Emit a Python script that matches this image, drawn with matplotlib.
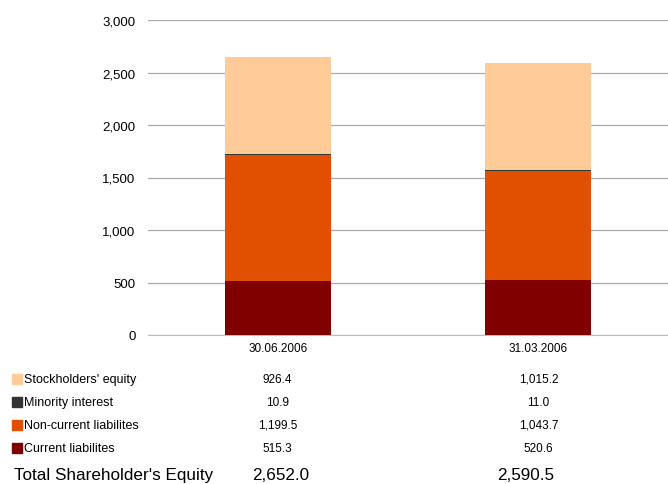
import matplotlib.pyplot as plt
import numpy as np

# Dane
dates = ["30.06.2006", "31.03.2006"]
labels = ["Current liabilites", "Non-current liabilites", "Minority interest", "Stockholders' equity"]
current = [515.3, 520.6]
non_current = [1199.5, 1043.7]
minority = [10.9, 11.0]
equity = [926.4, 1015.2]
totals = [2652.0, 2590.5]
colors = ["#800000", "#E05000", "#333333", "#FFCC99"]

plt.rcParams["font.family"] = ["Liberation Sans", "DejaVu Sans"]

fig = plt.figure(figsize=(6.68, 4.85), dpi=100)
ax = fig.add_axes([148 / 668, 1 - 336 / 485, 520 / 668, 315 / 485])

x = np.arange(len(dates))
series = [current, non_current, minority, equity]
bottom = np.zeros(len(dates))
for s, c in zip(series, colors):
    ax.bar(x, s, width=0.405, bottom=bottom, color=c, zorder=3)
    bottom += np.array(s)

ax.set_xlim(-0.5, 1.5)
ax.set_ylim(0, 3000)
ax.set_yticks(np.arange(0, 3001, 500))
ax.set_yticklabels([f"{v:,}" for v in range(0, 3001, 500)], fontsize=9.5)
ax.set_xticks(x)
ax.set_xticklabels(dates, fontsize=8.5)
ax.yaxis.grid(True, color="#aaaaaa", linewidth=0.9, zorder=0)
ax.tick_params(axis="y", length=0, pad=9)
ax.tick_params(axis="x", length=0, pad=5)
for side in ["top", "right", "left"]:
    ax.spines[side].set_visible(False)
ax.spines["bottom"].set_color("#bbbbbb")

# Tabela pod wykresem
rows_y = [380, 403, 426, 449]
order = [3, 2, 1, 0]
for yy, i in zip(rows_y, order):
    yf = 1 - yy / 485
    fig.patches.append(plt.Rectangle((12 / 668, yf - 5 / 485), 10 / 668, 10 / 485,
                                     transform=fig.transFigure, color=colors[i]))
    fig.text(24 / 668, yf, labels[i], fontsize=9, va="center", ha="left")
    for xi, s in zip([277.5, 538.5], [series[i][0], series[i][1]]):
        fig.text(xi / 668, yf, f"{s:,.1f}", fontsize=8.5, va="center", ha="center")

yt = 1 - 476 / 485
fig.text(14 / 668, yt, "Total Shareholder's Equity", fontsize=12.3, va="center", ha="left")
for xi, t in zip([281, 526], totals):
    fig.text(xi / 668, yt, f"{t:,.1f}", fontsize=12.3, va="center", ha="center")

fig.savefig("out.png", dpi=100)
